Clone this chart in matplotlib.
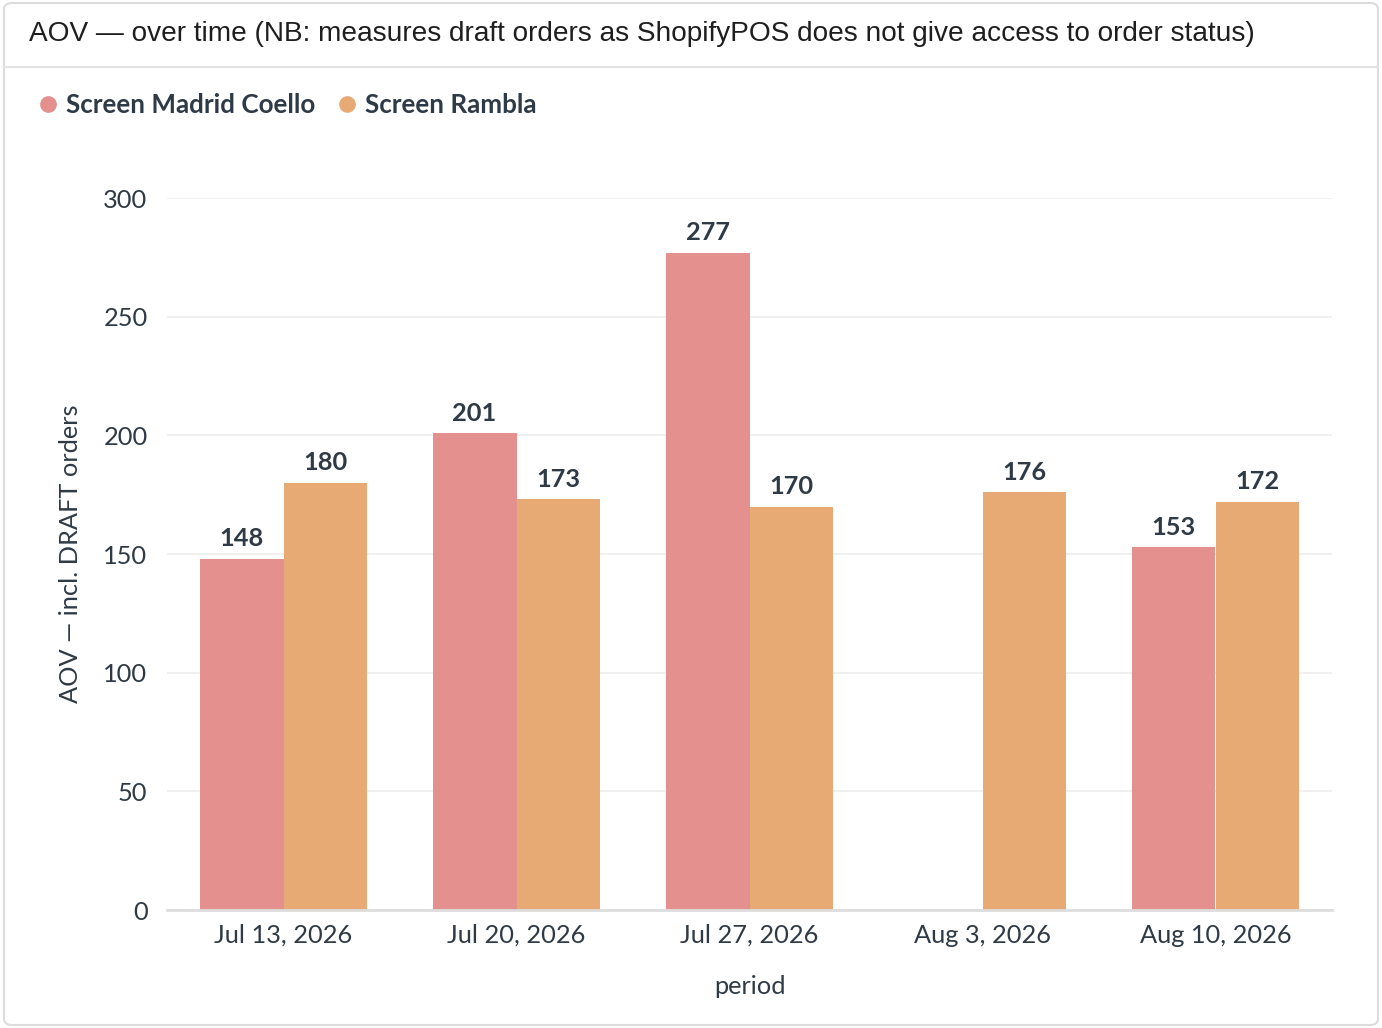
import numpy as np
import matplotlib
matplotlib.use("Agg")
import matplotlib.pyplot as plt
from matplotlib.patches import FancyBboxPatch
from matplotlib.lines import Line2D

categories = ["Jul 13, 2026", "Jul 20, 2026", "Jul 27, 2026", "Aug 3, 2026", "Aug 10, 2026"]
series_names = ["Screen Madrid Coello", "Screen Rambla"]
madrid = [148, 201, 277, np.nan, 153]
rambla = [180, 173, 170, 176, 172]
yticks = [0, 50, 100, 150, 200, 250, 300]

colors = ["#E3908E", "#E8AA74"]
text_color = "#2E3A46"
FS = 18.3

W, H = 1382, 1028
fig = plt.figure(figsize=(W / 100, H / 100), dpi=100)

# card
card = FancyBboxPatch((4 / W, 3 / H), (W - 8) / W, (H - 6) / H,
                      boxstyle="round,pad=0,rounding_size=0.006",
                      transform=fig.transFigure, facecolor="white",
                      edgecolor="#DCDCDC", linewidth=1.5, zorder=-5)
fig.patches.append(card)
fig.add_artist(Line2D([4 / W, (W - 4) / W], [1 - 67 / H, 1 - 67 / H],
                      transform=fig.transFigure, color="#E2E2E2", linewidth=1.5))
fig.text(29 / W, 1 - 34 / H,
         "AOV — over time (NB: measures draft orders as ShopifyPOS does not give access to order status)",
         fontsize=20.2, family=["Liberation Sans", "DejaVu Sans"], color="#1E1E1E",
         va="center", ha="left")

left, right, top, bottom = 167, 1332, 198, 910
ax = fig.add_axes([left / W, 1 - bottom / H, (right - left) / W, (bottom - top) / H])
ax.set_zorder(2)
ax.patch.set_alpha(0)

x = np.arange(len(categories))
bw = 0.36
b1 = ax.bar(x - bw / 2, madrid, width=bw, color=colors[0], zorder=2)
b2 = ax.bar(x + bw / 2, rambla, width=bw, color=colors[1], zorder=2)

lab_kw = dict(padding=6, fontsize=FS, fontweight="bold", color=text_color, family="Lato")
ax.bar_label(b1, labels=["" if np.isnan(v) else f"{v:.0f}" for v in madrid], **lab_kw)
ax.bar_label(b2, labels=[f"{v:.0f}" for v in rambla], **lab_kw)

ax.set_xlim(-0.5, len(categories) - 0.5)
ax.set_ylim(0, 300)
ax.set_yticks(yticks)
ax.set_xticks(x)
ax.set_xticklabels(categories)
ax.grid(axis="y", color="#EDEDED", linewidth=1.2, zorder=0)
ax.set_axisbelow(True)
for s in ["top", "right", "left"]:
    ax.spines[s].set_visible(False)
ax.spines["bottom"].set_color("#DDDDDD")
ax.spines["bottom"].set_linewidth(2)
ax.spines["bottom"].set_zorder(3)
ax.tick_params(axis="both", length=0, labelsize=FS, labelcolor=text_color)
ax.tick_params(axis="y", pad=14)
ax.tick_params(axis="x", pad=10)
for t in ax.get_xticklabels() + ax.get_yticklabels():
    t.set_family("Lato")

ax.set_ylabel("AOV — incl. DRAFT orders", fontsize=FS, color=text_color,
              family=["Lato", "DejaVu Sans"], labelpad=15)
ax.set_xlabel("period", fontsize=FS, color=text_color, family="Lato", labelpad=20)

handles = [Line2D([], [], marker="o", linestyle="", markersize=11, color=c) for c in colors]
leg = fig.legend(handles, series_names, loc="center left",
                 bbox_to_anchor=(9 / W, 1 - 105 / H), frameon=False,
                 ncol=2, handletextpad=0.1, columnspacing=0.6, handlelength=1.2,
                 prop=dict(family="Lato", weight="bold", size=18.7))
for t in leg.get_texts():
    t.set_color(text_color)

fig.savefig("out.png", dpi=100, facecolor="white")
